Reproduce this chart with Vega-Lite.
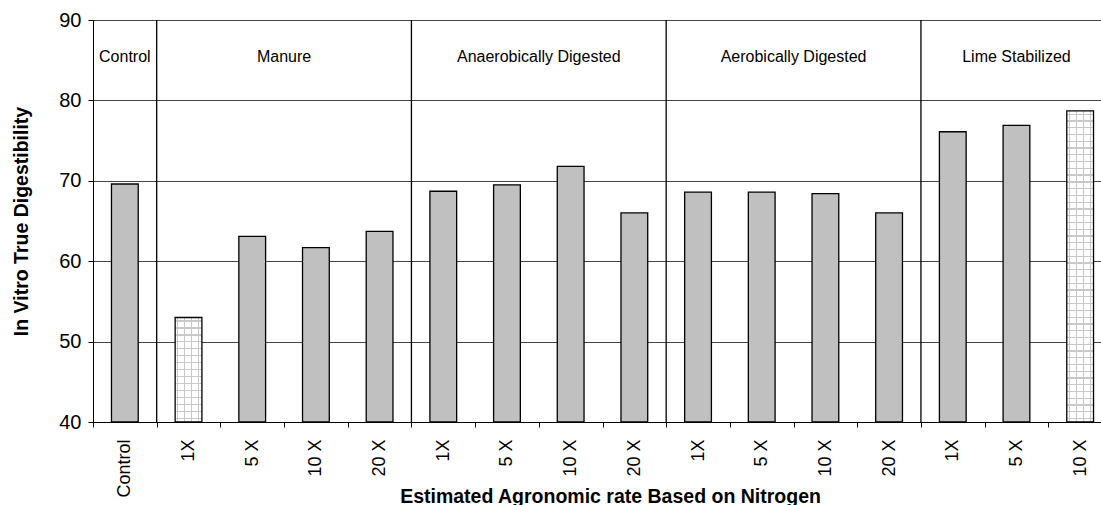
{
  "$schema": "https://vega.github.io/schema/vega-lite/v6.json",
  "width": 1008,
  "height": 402,
  "autosize": {"type": "none"},
  "padding": {"left": 93, "top": 20, "right": 0, "bottom": 83},
  "background": "white",
  "config": {
    "font": "Liberation Sans",
    "view": {"stroke": "black", "strokeWidth": 1}
  },
  "datasets": {
    "bars": [
      {"cat": "Control", "ivtd": 69.6},
      {"cat": "Manure|1X", "ivtd": 53.0},
      {"cat": "Manure|5 X", "ivtd": 63.1},
      {"cat": "Manure|10 X", "ivtd": 61.7},
      {"cat": "Manure|20 X", "ivtd": 63.7},
      {"cat": "Anaerobically Digested|1X", "ivtd": 68.7},
      {"cat": "Anaerobically Digested|5 X", "ivtd": 69.5},
      {"cat": "Anaerobically Digested|10 X", "ivtd": 71.8},
      {"cat": "Anaerobically Digested|20 X", "ivtd": 66.0},
      {"cat": "Aerobically Digested|1X", "ivtd": 68.6},
      {"cat": "Aerobically Digested|5 X", "ivtd": 68.6},
      {"cat": "Aerobically Digested|10 X", "ivtd": 68.4},
      {"cat": "Aerobically Digested|20 X", "ivtd": 66.0},
      {"cat": "Lime Stabilized|1X", "ivtd": 76.1},
      {"cat": "Lime Stabilized|5 X", "ivtd": 76.9},
      {"cat": "Lime Stabilized|10 X", "ivtd": 78.7}
    ],
    "separators": [
      {"cat": "Manure|1X"},
      {"cat": "Anaerobically Digested|1X"},
      {"cat": "Aerobically Digested|1X"},
      {"cat": "Lime Stabilized|1X"}
    ],
    "groupsCentered": [
      {"cat": "Control", "label": "Control"},
      {"cat": "Lime Stabilized|5 X", "label": "Lime Stabilized"}
    ],
    "groupsBetween": [
      {"cat": "Manure|10 X", "label": "Manure"},
      {"cat": "Anaerobically Digested|10 X", "label": "Anaerobically Digested"},
      {"cat": "Aerobically Digested|10 X", "label": "Aerobically Digested"}
    ]
  },
  "encoding": {
    "x": {
      "field": "cat",
      "type": "nominal",
      "scale": {
        "domain": ["Control", "Manure|1X", "Manure|5 X", "Manure|10 X", "Manure|20 X",
          "Anaerobically Digested|1X", "Anaerobically Digested|5 X", "Anaerobically Digested|10 X", "Anaerobically Digested|20 X",
          "Aerobically Digested|1X", "Aerobically Digested|5 X", "Aerobically Digested|10 X", "Aerobically Digested|20 X",
          "Lime Stabilized|1X", "Lime Stabilized|5 X", "Lime Stabilized|10 X"],
        "range": [0, 1019],
        "paddingInner": 0,
        "paddingOuter": 0
      },
      "axis": {
        "title": "Estimated Agronomic rate Based on Nitrogen",
        "titleFontSize": 19.5,
        "titleFontWeight": "bold",
        "titleColor": "black",
        "titleX": 517,
        "titleY": 80,
        "titleBaseline": "alphabetic",
        "titleAlign": "center",
        "labelExpr": "peek(split(datum.label, '|'))",
        "labelAngle": 270,
        "labelAlign": "right",
        "labelBaseline": "middle",
        "labelFontSize": 18,
        "labelColor": "black",
        "labelPadding": 12,
        "tickBand": "extent",
        "tickColor": "black",
        "tickSize": 5,
        "domainColor": "black",
        "grid": false
      }
    }
  },
  "layer": [
    {
      "data": {"name": "bars"},
      "encoding": {
        "y": {
          "field": "ivtd",
          "type": "quantitative",
          "scale": {"domain": [40, 90], "nice": false, "zero": false},
          "axis": {
            "title": "In Vitro True Digestibility",
            "titleFontSize": 19.5,
            "titleFontWeight": "bold",
            "titleColor": "black",
            "titleAngle": 270,
            "titleBaseline": "middle",
            "titleX": -72,
            "values": [40, 50, 60, 70, 80, 90],
            "labelFontSize": 20,
            "labelColor": "black",
            "labelPadding": 7,
            "tickColor": "black",
            "tickSize": 5,
            "domainColor": "black",
            "gridColor": "#444444",
            "gridWidth": 1
          }
        },
        "y2": {"datum": 40}
      },
      "layer": [
        {
          "transform": [{"filter": "datum.cat !== 'Manure|1X' && datum.cat !== 'Lime Stabilized|10 X'"}],
          "mark": {"type": "bar", "width": {"band": 0.42}, "fill": "#c0c0c0", "stroke": "black", "strokeWidth": 1.3}
        },
        {
          "transform": [{"filter": "datum.cat === 'Manure|1X' || datum.cat === 'Lime Stabilized|10 X'"}],
          "mark": {
            "type": "bar", "width": {"band": 0.42}, "strokeWidth": 0,
            "fill": {"gradient": "linear", "x1": 0, "y1": 0, "x2": 1, "y2": 0, "stops": [
              {"offset": 0, "color": "#ffffff"},
              {"offset": 0.068, "color": "#ffffff"}, {"offset": 0.068, "color": "#c8c8c8"}, {"offset": 0.112, "color": "#c8c8c8"}, {"offset": 0.112, "color": "#ffffff"},
              {"offset": 0.333, "color": "#ffffff"}, {"offset": 0.333, "color": "#c8c8c8"}, {"offset": 0.377, "color": "#c8c8c8"}, {"offset": 0.377, "color": "#ffffff"},
              {"offset": 0.598, "color": "#ffffff"}, {"offset": 0.598, "color": "#c8c8c8"}, {"offset": 0.642, "color": "#c8c8c8"}, {"offset": 0.642, "color": "#ffffff"},
              {"offset": 0.863, "color": "#ffffff"}, {"offset": 0.863, "color": "#c8c8c8"}, {"offset": 0.907, "color": "#c8c8c8"}, {"offset": 0.907, "color": "#ffffff"},
              {"offset": 1, "color": "#ffffff"}
            ]}
          }
        },
        {
          "transform": [{"filter": "datum.cat === 'Manure|1X'"}],
          "mark": {
            "type": "bar", "width": {"band": 0.42}, "stroke": "black", "strokeWidth": 1.3,
            "fill": {"gradient": "linear", "x1": 0, "y1": 0, "x2": 0, "y2": 1, "stops": [
              {"offset": 0, "color": "rgba(200,200,200,0)"},
              {"offset": 0.0273, "color": "rgba(200,200,200,0)"}, {"offset": 0.0273, "color": "#c8c8c8"}, {"offset": 0.0393, "color": "#c8c8c8"}, {"offset": 0.0393, "color": "rgba(200,200,200,0)"},
              {"offset": 0.094, "color": "rgba(200,200,200,0)"}, {"offset": 0.094, "color": "#c8c8c8"}, {"offset": 0.106, "color": "#c8c8c8"}, {"offset": 0.106, "color": "rgba(200,200,200,0)"},
              {"offset": 0.1607, "color": "rgba(200,200,200,0)"}, {"offset": 0.1607, "color": "#c8c8c8"}, {"offset": 0.1727, "color": "#c8c8c8"}, {"offset": 0.1727, "color": "rgba(200,200,200,0)"},
              {"offset": 0.2273, "color": "rgba(200,200,200,0)"}, {"offset": 0.2273, "color": "#c8c8c8"}, {"offset": 0.2393, "color": "#c8c8c8"}, {"offset": 0.2393, "color": "rgba(200,200,200,0)"},
              {"offset": 0.294, "color": "rgba(200,200,200,0)"}, {"offset": 0.294, "color": "#c8c8c8"}, {"offset": 0.306, "color": "#c8c8c8"}, {"offset": 0.306, "color": "rgba(200,200,200,0)"},
              {"offset": 0.3607, "color": "rgba(200,200,200,0)"}, {"offset": 0.3607, "color": "#c8c8c8"}, {"offset": 0.3727, "color": "#c8c8c8"}, {"offset": 0.3727, "color": "rgba(200,200,200,0)"},
              {"offset": 0.4273, "color": "rgba(200,200,200,0)"}, {"offset": 0.4273, "color": "#c8c8c8"}, {"offset": 0.4393, "color": "#c8c8c8"}, {"offset": 0.4393, "color": "rgba(200,200,200,0)"},
              {"offset": 0.494, "color": "rgba(200,200,200,0)"}, {"offset": 0.494, "color": "#c8c8c8"}, {"offset": 0.506, "color": "#c8c8c8"}, {"offset": 0.506, "color": "rgba(200,200,200,0)"},
              {"offset": 0.5607, "color": "rgba(200,200,200,0)"}, {"offset": 0.5607, "color": "#c8c8c8"}, {"offset": 0.5727, "color": "#c8c8c8"}, {"offset": 0.5727, "color": "rgba(200,200,200,0)"},
              {"offset": 0.6273, "color": "rgba(200,200,200,0)"}, {"offset": 0.6273, "color": "#c8c8c8"}, {"offset": 0.6393, "color": "#c8c8c8"}, {"offset": 0.6393, "color": "rgba(200,200,200,0)"},
              {"offset": 0.694, "color": "rgba(200,200,200,0)"}, {"offset": 0.694, "color": "#c8c8c8"}, {"offset": 0.706, "color": "#c8c8c8"}, {"offset": 0.706, "color": "rgba(200,200,200,0)"},
              {"offset": 0.7607, "color": "rgba(200,200,200,0)"}, {"offset": 0.7607, "color": "#c8c8c8"}, {"offset": 0.7727, "color": "#c8c8c8"}, {"offset": 0.7727, "color": "rgba(200,200,200,0)"},
              {"offset": 0.8273, "color": "rgba(200,200,200,0)"}, {"offset": 0.8273, "color": "#c8c8c8"}, {"offset": 0.8393, "color": "#c8c8c8"}, {"offset": 0.8393, "color": "rgba(200,200,200,0)"},
              {"offset": 0.894, "color": "rgba(200,200,200,0)"}, {"offset": 0.894, "color": "#c8c8c8"}, {"offset": 0.906, "color": "#c8c8c8"}, {"offset": 0.906, "color": "rgba(200,200,200,0)"},
              {"offset": 0.9607, "color": "rgba(200,200,200,0)"}, {"offset": 0.9607, "color": "#c8c8c8"}, {"offset": 0.9727, "color": "#c8c8c8"}, {"offset": 0.9727, "color": "rgba(200,200,200,0)"},
              {"offset": 1, "color": "rgba(200,200,200,0)"}
            ]}
          }
        },
        {
          "transform": [{"filter": "datum.cat === 'Lime Stabilized|10 X'"}],
          "mark": {
            "type": "bar", "width": {"band": 0.42}, "stroke": "black", "strokeWidth": 1.3,
            "fill": {"gradient": "linear", "x1": 0, "y1": 0, "x2": 0, "y2": 1, "stops": [
              {"offset": 0, "color": "rgba(200,200,200,0)"},
              {"offset": 0.0089, "color": "rgba(200,200,200,0)"}, {"offset": 0.0089, "color": "#c8c8c8"}, {"offset": 0.0129, "color": "#c8c8c8"}, {"offset": 0.0129, "color": "rgba(200,200,200,0)"},
              {"offset": 0.0306, "color": "rgba(200,200,200,0)"}, {"offset": 0.0306, "color": "#c8c8c8"}, {"offset": 0.0346, "color": "#c8c8c8"}, {"offset": 0.0346, "color": "rgba(200,200,200,0)"},
              {"offset": 0.0523, "color": "rgba(200,200,200,0)"}, {"offset": 0.0523, "color": "#c8c8c8"}, {"offset": 0.0563, "color": "#c8c8c8"}, {"offset": 0.0563, "color": "rgba(200,200,200,0)"},
              {"offset": 0.0741, "color": "rgba(200,200,200,0)"}, {"offset": 0.0741, "color": "#c8c8c8"}, {"offset": 0.0781, "color": "#c8c8c8"}, {"offset": 0.0781, "color": "rgba(200,200,200,0)"},
              {"offset": 0.0958, "color": "rgba(200,200,200,0)"}, {"offset": 0.0958, "color": "#c8c8c8"}, {"offset": 0.0998, "color": "#c8c8c8"}, {"offset": 0.0998, "color": "rgba(200,200,200,0)"},
              {"offset": 0.1176, "color": "rgba(200,200,200,0)"}, {"offset": 0.1176, "color": "#c8c8c8"}, {"offset": 0.1216, "color": "#c8c8c8"}, {"offset": 0.1216, "color": "rgba(200,200,200,0)"},
              {"offset": 0.1393, "color": "rgba(200,200,200,0)"}, {"offset": 0.1393, "color": "#c8c8c8"}, {"offset": 0.1433, "color": "#c8c8c8"}, {"offset": 0.1433, "color": "rgba(200,200,200,0)"},
              {"offset": 0.161, "color": "rgba(200,200,200,0)"}, {"offset": 0.161, "color": "#c8c8c8"}, {"offset": 0.165, "color": "#c8c8c8"}, {"offset": 0.165, "color": "rgba(200,200,200,0)"},
              {"offset": 0.1828, "color": "rgba(200,200,200,0)"}, {"offset": 0.1828, "color": "#c8c8c8"}, {"offset": 0.1868, "color": "#c8c8c8"}, {"offset": 0.1868, "color": "rgba(200,200,200,0)"},
              {"offset": 0.2045, "color": "rgba(200,200,200,0)"}, {"offset": 0.2045, "color": "#c8c8c8"}, {"offset": 0.2085, "color": "#c8c8c8"}, {"offset": 0.2085, "color": "rgba(200,200,200,0)"},
              {"offset": 0.2263, "color": "rgba(200,200,200,0)"}, {"offset": 0.2263, "color": "#c8c8c8"}, {"offset": 0.2303, "color": "#c8c8c8"}, {"offset": 0.2303, "color": "rgba(200,200,200,0)"},
              {"offset": 0.248, "color": "rgba(200,200,200,0)"}, {"offset": 0.248, "color": "#c8c8c8"}, {"offset": 0.252, "color": "#c8c8c8"}, {"offset": 0.252, "color": "rgba(200,200,200,0)"},
              {"offset": 0.2697, "color": "rgba(200,200,200,0)"}, {"offset": 0.2697, "color": "#c8c8c8"}, {"offset": 0.2737, "color": "#c8c8c8"}, {"offset": 0.2737, "color": "rgba(200,200,200,0)"},
              {"offset": 0.2915, "color": "rgba(200,200,200,0)"}, {"offset": 0.2915, "color": "#c8c8c8"}, {"offset": 0.2955, "color": "#c8c8c8"}, {"offset": 0.2955, "color": "rgba(200,200,200,0)"},
              {"offset": 0.3132, "color": "rgba(200,200,200,0)"}, {"offset": 0.3132, "color": "#c8c8c8"}, {"offset": 0.3172, "color": "#c8c8c8"}, {"offset": 0.3172, "color": "rgba(200,200,200,0)"},
              {"offset": 0.335, "color": "rgba(200,200,200,0)"}, {"offset": 0.335, "color": "#c8c8c8"}, {"offset": 0.339, "color": "#c8c8c8"}, {"offset": 0.339, "color": "rgba(200,200,200,0)"},
              {"offset": 0.3567, "color": "rgba(200,200,200,0)"}, {"offset": 0.3567, "color": "#c8c8c8"}, {"offset": 0.3607, "color": "#c8c8c8"}, {"offset": 0.3607, "color": "rgba(200,200,200,0)"},
              {"offset": 0.3784, "color": "rgba(200,200,200,0)"}, {"offset": 0.3784, "color": "#c8c8c8"}, {"offset": 0.3824, "color": "#c8c8c8"}, {"offset": 0.3824, "color": "rgba(200,200,200,0)"},
              {"offset": 0.4002, "color": "rgba(200,200,200,0)"}, {"offset": 0.4002, "color": "#c8c8c8"}, {"offset": 0.4042, "color": "#c8c8c8"}, {"offset": 0.4042, "color": "rgba(200,200,200,0)"},
              {"offset": 0.4219, "color": "rgba(200,200,200,0)"}, {"offset": 0.4219, "color": "#c8c8c8"}, {"offset": 0.4259, "color": "#c8c8c8"}, {"offset": 0.4259, "color": "rgba(200,200,200,0)"},
              {"offset": 0.4437, "color": "rgba(200,200,200,0)"}, {"offset": 0.4437, "color": "#c8c8c8"}, {"offset": 0.4477, "color": "#c8c8c8"}, {"offset": 0.4477, "color": "rgba(200,200,200,0)"},
              {"offset": 0.4654, "color": "rgba(200,200,200,0)"}, {"offset": 0.4654, "color": "#c8c8c8"}, {"offset": 0.4694, "color": "#c8c8c8"}, {"offset": 0.4694, "color": "rgba(200,200,200,0)"},
              {"offset": 0.4871, "color": "rgba(200,200,200,0)"}, {"offset": 0.4871, "color": "#c8c8c8"}, {"offset": 0.4911, "color": "#c8c8c8"}, {"offset": 0.4911, "color": "rgba(200,200,200,0)"},
              {"offset": 0.5089, "color": "rgba(200,200,200,0)"}, {"offset": 0.5089, "color": "#c8c8c8"}, {"offset": 0.5129, "color": "#c8c8c8"}, {"offset": 0.5129, "color": "rgba(200,200,200,0)"},
              {"offset": 0.5306, "color": "rgba(200,200,200,0)"}, {"offset": 0.5306, "color": "#c8c8c8"}, {"offset": 0.5346, "color": "#c8c8c8"}, {"offset": 0.5346, "color": "rgba(200,200,200,0)"},
              {"offset": 0.5523, "color": "rgba(200,200,200,0)"}, {"offset": 0.5523, "color": "#c8c8c8"}, {"offset": 0.5563, "color": "#c8c8c8"}, {"offset": 0.5563, "color": "rgba(200,200,200,0)"},
              {"offset": 0.5741, "color": "rgba(200,200,200,0)"}, {"offset": 0.5741, "color": "#c8c8c8"}, {"offset": 0.5781, "color": "#c8c8c8"}, {"offset": 0.5781, "color": "rgba(200,200,200,0)"},
              {"offset": 0.5958, "color": "rgba(200,200,200,0)"}, {"offset": 0.5958, "color": "#c8c8c8"}, {"offset": 0.5998, "color": "#c8c8c8"}, {"offset": 0.5998, "color": "rgba(200,200,200,0)"},
              {"offset": 0.6176, "color": "rgba(200,200,200,0)"}, {"offset": 0.6176, "color": "#c8c8c8"}, {"offset": 0.6216, "color": "#c8c8c8"}, {"offset": 0.6216, "color": "rgba(200,200,200,0)"},
              {"offset": 0.6393, "color": "rgba(200,200,200,0)"}, {"offset": 0.6393, "color": "#c8c8c8"}, {"offset": 0.6433, "color": "#c8c8c8"}, {"offset": 0.6433, "color": "rgba(200,200,200,0)"},
              {"offset": 0.661, "color": "rgba(200,200,200,0)"}, {"offset": 0.661, "color": "#c8c8c8"}, {"offset": 0.665, "color": "#c8c8c8"}, {"offset": 0.665, "color": "rgba(200,200,200,0)"},
              {"offset": 0.6828, "color": "rgba(200,200,200,0)"}, {"offset": 0.6828, "color": "#c8c8c8"}, {"offset": 0.6868, "color": "#c8c8c8"}, {"offset": 0.6868, "color": "rgba(200,200,200,0)"},
              {"offset": 0.7045, "color": "rgba(200,200,200,0)"}, {"offset": 0.7045, "color": "#c8c8c8"}, {"offset": 0.7085, "color": "#c8c8c8"}, {"offset": 0.7085, "color": "rgba(200,200,200,0)"},
              {"offset": 0.7263, "color": "rgba(200,200,200,0)"}, {"offset": 0.7263, "color": "#c8c8c8"}, {"offset": 0.7303, "color": "#c8c8c8"}, {"offset": 0.7303, "color": "rgba(200,200,200,0)"},
              {"offset": 0.748, "color": "rgba(200,200,200,0)"}, {"offset": 0.748, "color": "#c8c8c8"}, {"offset": 0.752, "color": "#c8c8c8"}, {"offset": 0.752, "color": "rgba(200,200,200,0)"},
              {"offset": 0.7697, "color": "rgba(200,200,200,0)"}, {"offset": 0.7697, "color": "#c8c8c8"}, {"offset": 0.7737, "color": "#c8c8c8"}, {"offset": 0.7737, "color": "rgba(200,200,200,0)"},
              {"offset": 0.7915, "color": "rgba(200,200,200,0)"}, {"offset": 0.7915, "color": "#c8c8c8"}, {"offset": 0.7955, "color": "#c8c8c8"}, {"offset": 0.7955, "color": "rgba(200,200,200,0)"},
              {"offset": 0.8132, "color": "rgba(200,200,200,0)"}, {"offset": 0.8132, "color": "#c8c8c8"}, {"offset": 0.8172, "color": "#c8c8c8"}, {"offset": 0.8172, "color": "rgba(200,200,200,0)"},
              {"offset": 0.835, "color": "rgba(200,200,200,0)"}, {"offset": 0.835, "color": "#c8c8c8"}, {"offset": 0.839, "color": "#c8c8c8"}, {"offset": 0.839, "color": "rgba(200,200,200,0)"},
              {"offset": 0.8567, "color": "rgba(200,200,200,0)"}, {"offset": 0.8567, "color": "#c8c8c8"}, {"offset": 0.8607, "color": "#c8c8c8"}, {"offset": 0.8607, "color": "rgba(200,200,200,0)"},
              {"offset": 0.8784, "color": "rgba(200,200,200,0)"}, {"offset": 0.8784, "color": "#c8c8c8"}, {"offset": 0.8824, "color": "#c8c8c8"}, {"offset": 0.8824, "color": "rgba(200,200,200,0)"},
              {"offset": 0.9002, "color": "rgba(200,200,200,0)"}, {"offset": 0.9002, "color": "#c8c8c8"}, {"offset": 0.9042, "color": "#c8c8c8"}, {"offset": 0.9042, "color": "rgba(200,200,200,0)"},
              {"offset": 0.9219, "color": "rgba(200,200,200,0)"}, {"offset": 0.9219, "color": "#c8c8c8"}, {"offset": 0.9259, "color": "#c8c8c8"}, {"offset": 0.9259, "color": "rgba(200,200,200,0)"},
              {"offset": 0.9437, "color": "rgba(200,200,200,0)"}, {"offset": 0.9437, "color": "#c8c8c8"}, {"offset": 0.9477, "color": "#c8c8c8"}, {"offset": 0.9477, "color": "rgba(200,200,200,0)"},
              {"offset": 0.9654, "color": "rgba(200,200,200,0)"}, {"offset": 0.9654, "color": "#c8c8c8"}, {"offset": 0.9694, "color": "#c8c8c8"}, {"offset": 0.9694, "color": "rgba(200,200,200,0)"},
              {"offset": 0.9871, "color": "rgba(200,200,200,0)"}, {"offset": 0.9871, "color": "#c8c8c8"}, {"offset": 0.9911, "color": "#c8c8c8"}, {"offset": 0.9911, "color": "rgba(200,200,200,0)"},
              {"offset": 1, "color": "rgba(200,200,200,0)"}
            ]}
          }
        }
      ]
    },
    {
      "data": {"name": "separators"},
      "mark": {"type": "rule", "color": "black", "strokeWidth": 1.3},
      "encoding": {
        "x": {"field": "cat", "type": "nominal", "bandPosition": 0}
      }
    },
    {
      "data": {"name": "groupsCentered"},
      "mark": {"type": "text", "fontSize": 16, "color": "black", "baseline": "middle"},
      "encoding": {
        "x": {"field": "cat", "type": "nominal", "bandPosition": 0.5},
        "y": {"datum": 85.4, "type": "quantitative"},
        "text": {"field": "label"}
      }
    },
    {
      "data": {"name": "groupsBetween"},
      "mark": {"type": "text", "fontSize": 16, "color": "black", "baseline": "middle"},
      "encoding": {
        "x": {"field": "cat", "type": "nominal", "bandPosition": 0},
        "y": {"datum": 85.4, "type": "quantitative"},
        "text": {"field": "label"}
      }
    }
  ]
}
